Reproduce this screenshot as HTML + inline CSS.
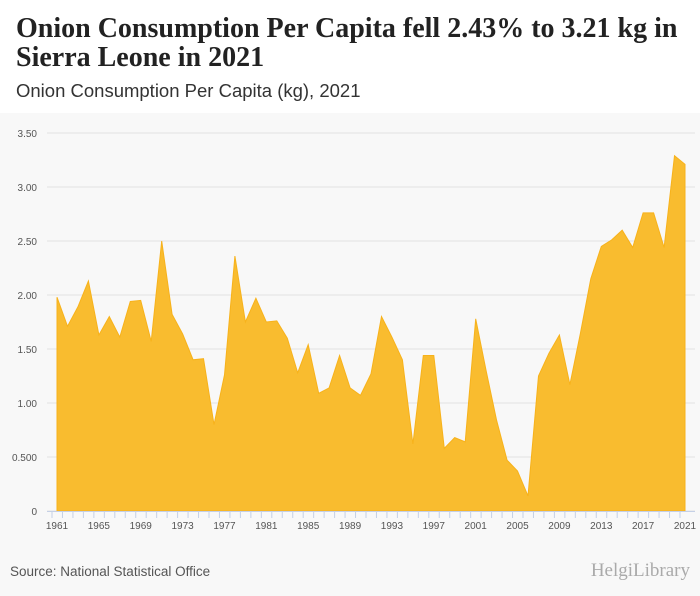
<!DOCTYPE html>
<html><head><meta charset="utf-8"><style>
body{margin:0;width:700px;height:596px;background:#fff;font-family:"Liberation Sans",sans-serif;overflow:hidden;position:relative}
#title{position:absolute;left:16px;top:14px;font-family:"Liberation Serif",serif;font-weight:bold;font-size:28px;line-height:29px;color:#222}
#sub{position:absolute;left:16px;top:80px;font-size:18.5px;color:#333}
#panel{position:absolute;left:0;top:113px;width:700px;height:483px;background:#f8f8f8}
#src{position:absolute;left:10px;top:564px;font-size:13.5px;color:#555}
#logo{position:absolute;right:10px;top:560px;font-size:19px;color:#aaa;font-family:"Liberation Serif",serif}
</style></head><body>
<div id="title">Onion Consumption Per Capita fell 2.43% to 3.21 kg in<br>Sierra Leone in 2021</div>
<div id="sub">Onion Consumption Per Capita (kg), 2021</div>
<div id="panel"></div>
<svg id="chart" width="700" height="596" style="position:absolute;left:0;top:0"></svg>
<div id="src">Source: National Statistical Office</div>
<div id="logo">HelgiLibrary</div>
<script>
const years=[];for(let y=1961;y<=2021;y++)years.push(y);
const values=[1.98,1.71,1.89,2.13,1.63,1.80,1.61,1.94,1.95,1.57,2.50,1.82,1.64,1.40,1.41,0.80,1.26,2.36,1.75,1.97,1.75,1.76,1.60,1.28,1.54,1.09,1.14,1.44,1.14,1.07,1.27,1.80,1.61,1.40,0.62,1.44,1.44,0.58,0.68,0.64,1.78,1.30,0.84,0.47,0.37,0.14,1.25,1.46,1.63,1.17,1.64,2.15,2.45,2.51,2.60,2.44,2.76,2.76,2.44,3.29,3.21];
const yTicks=[0,0.5,1,1.5,2,2.5,3,3.5];
const yTickLabels=["0","0.500","1.00","1.50","2.00","2.50","3.00","3.50"];
const xLabels=[1961,1965,1969,1973,1977,1981,1985,1989,1993,1997,2001,2005,2009,2013,2017,2021];
const NS="http://www.w3.org/2000/svg";
const svg=document.getElementById('chart');
const X=y=>57+(y-1961)*(628/60);
const Y=v=>511-v*108;
function mk(t,a){const e=document.createElementNS(NS,t);for(const k in a)e.setAttribute(k,a[k]);svg.appendChild(e);return e;}
yTicks.forEach((v,i)=>{
 const l=mk('line',{x1:47,x2:695,y1:Y(v),y2:Y(v),stroke:'#e2e2e2','stroke-width':1});
 
 
 const t=mk('text',{x:37,y:Y(v)+4,'text-anchor':'end','font-size':10,fill:'#555','font-family':'Liberation Sans, sans-serif'});
 t.textContent=yTickLabels[i];
 
 
});
let d='M'+X(years[0])+','+Y(0);
years.forEach((y,i)=>{d+=' L'+X(y).toFixed(1)+','+Y(values[i]).toFixed(1);});
d+=' L'+X(years[years.length-1])+','+Y(0)+' Z';
const area=mk('path',{d:d,fill:'#f9bc2f',stroke:'#f7b21b','stroke-width':1});


const ax=mk('line',{x1:47,x2:695,y1:511.5,y2:511.5,stroke:'#c5d0e6'});


years.forEach(y=>{
 const tk=mk('line',{x1:X(y)-5,x2:X(y)-5,y1:512,y2:518,stroke:'#c5d0e6'});
 
 
});
xLabels.forEach(y=>{
 const t=mk('text',{x:X(y),y:529,'text-anchor':'middle','font-size':10,fill:'#555','font-family':'Liberation Sans, sans-serif'});
 t.textContent=y;
 
 
});
</script>
</body></html>
